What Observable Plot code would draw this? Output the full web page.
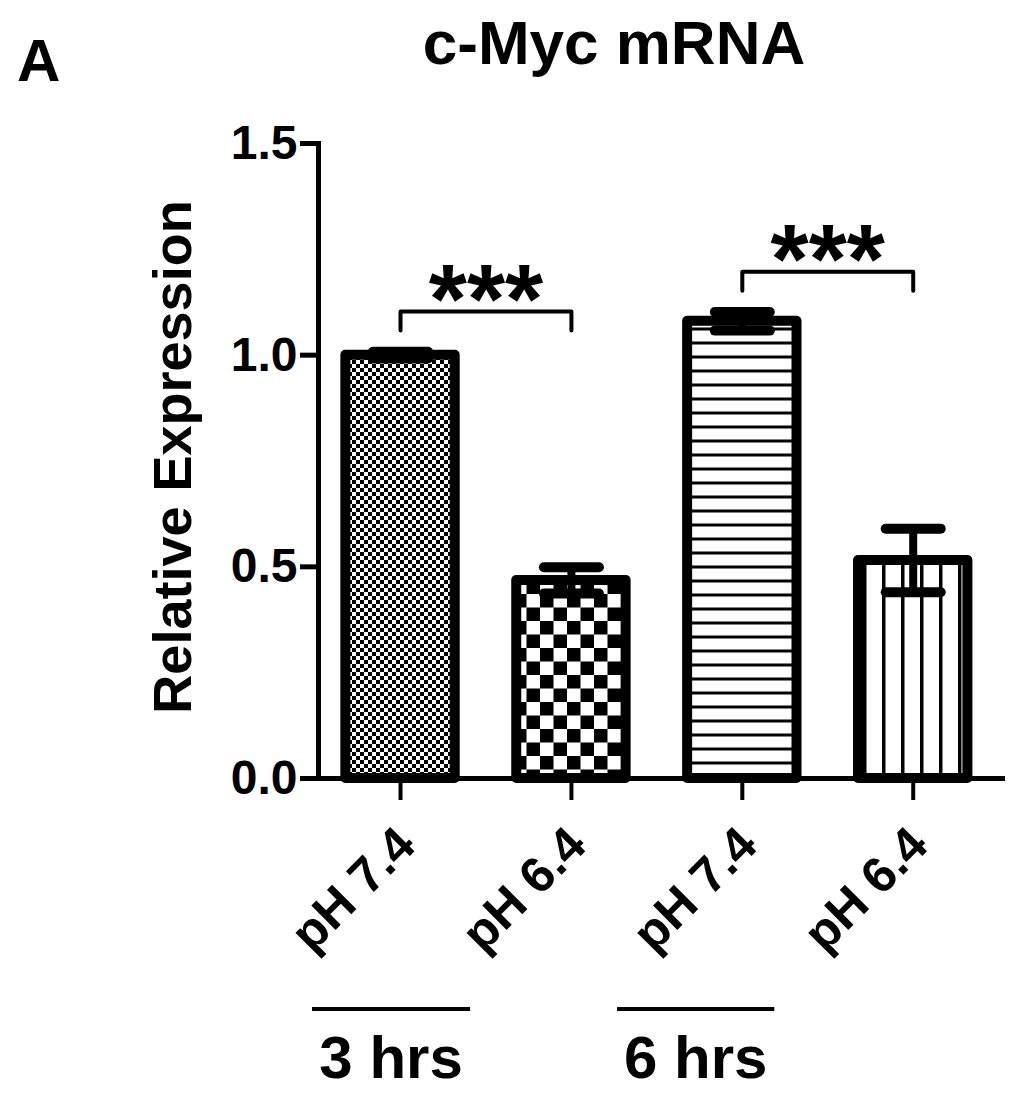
<!DOCTYPE html>
<html>
<head>
<meta charset="utf-8">
<script src="https://cdn.jsdelivr.net/npm/d3@7"></script>
<script src="https://cdn.jsdelivr.net/npm/@observablehq/plot@0.6"></script>
<style>
  body { margin: 0; background: #fff; }
  #wrap { position: relative; width: 1024px; height: 1100px; font-family: "Liberation Sans", Arial, sans-serif; color: #000; }
  #panel { position: absolute; left: 17px; top: 31px; font-size: 60px; font-weight: bold; line-height: 1; }
  #title { position: absolute; left: 364px; width: 500px; top: 12px; text-align: center; font-size: 62px; font-weight: bold; line-height: 1; }
  #chart { position: absolute; left: 0; top: 0; }
</style>
</head>
<body>
<svg width="0" height="0" style="position:absolute">
  <defs>
    <pattern id="checkFine" patternUnits="userSpaceOnUse" width="8" height="8">
      <rect width="8" height="8" fill="#fff"/>
      <rect x="0" y="0" width="4" height="4" fill="#000"/>
      <rect x="4" y="4" width="4" height="4" fill="#000"/>
    </pattern>
    <pattern id="checkCoarse" patternUnits="userSpaceOnUse" width="27" height="27">
      <rect width="27" height="27" fill="#fff"/>
      <rect x="0" y="0" width="13.5" height="13.5" fill="#000"/>
      <rect x="13.5" y="13.5" width="13.5" height="13.5" fill="#000"/>
    </pattern>
    <pattern id="hLines" patternUnits="userSpaceOnUse" width="14" height="14">
      <rect width="14" height="14" fill="#fff"/>
      <rect x="0" y="5.5" width="14" height="3" fill="#000"/>
    </pattern>
    <pattern id="vLines" patternUnits="userSpaceOnUse" width="19" height="19">
      <rect width="19" height="19" fill="#fff"/>
      <rect x="8" y="0" width="3.5" height="19" fill="#000"/>
    </pattern>
  </defs>
</svg>
<div id="wrap">
  <div id="chart"></div>
  <div id="panel">A</div>
  <div id="title">c-Myc mRNA</div>
</div>
<script>
// ---- data ----
const timeGroups = ["3 hrs", "3 hrs", "6 hrs", "6 hrs"];
const phLabels = ["pH 7.4", "pH 6.4", "pH 7.4", "pH 6.4"];
const means = [1.0, 0.468, 1.08, 0.515];
const sems = [0.008, 0.031, 0.022, 0.075];
const sigPairs = [[0, 1], [2, 3]];
const sigLabels = ["***", "***"];
const yTicks = [0, 0.5, 1.0, 1.5];
const groupNames = ["3 hrs", "6 hrs"];

// ---- styles (not data) ----
const patterns = ["url(#checkFine)", "url(#checkCoarse)", "url(#hLines)", "url(#vLines)"];
const font = "Liberation Sans, Arial, sans-serif";
const halfBar = 0.32, halfCap = 0.161, bracketGap = 0.095, bracketLeg = 0.045;

const idx = means.map((_, i) => i);
const bars = idx.map(i => ({i, group: timeGroups[i], label: phLabels[i], mean: means[i], sem: sems[i], fill: patterns[i]}));

const brackets = [];
sigPairs.forEach(([a, b], k) => {
  const top = Math.max(means[a] + sems[a], means[b] + sems[b]) + bracketGap;
  brackets.push({k, x: a, y: top - bracketLeg}, {k, x: a, y: top}, {k, x: b, y: top}, {k, x: b, y: top - bracketLeg});
});
const stars = sigPairs.map(([a, b], k) => ({
  x: (a + b) / 2,
  y: Math.max(means[a] + sems[a], means[b] + sems[b]) + bracketGap,
  text: sigLabels[k]
}));

const plot = Plot.plot({
  width: 1024,
  height: 1100,
  marginLeft: 318,
  marginRight: 19,
  marginTop: 143,
  marginBottom: 322,
  style: {fontFamily: font, background: "transparent", color: "#000", overflow: "visible"},
  x: {type: "linear", domain: [-0.48, 3.54]},
  y: {domain: [0, 1.5]},
  color: {type: "identity"},
  marks: [
    Plot.rectY(bars, {x1: d => d.i - halfBar, x2: d => d.i + halfBar, y1: 0, y2: "mean", fill: "fill", stroke: "#000", strokeWidth: 10, strokeLinejoin: "round"}),
    Plot.ruleX(bars, {x: "i", y1: d => d.mean - d.sem, y2: d => d.mean + d.sem, stroke: "#000", strokeWidth: 8}),
    Plot.link(bars, {x1: d => d.i - halfCap, x2: d => d.i + halfCap, y1: d => d.mean + d.sem, y2: d => d.mean + d.sem, stroke: "#000", strokeWidth: 10, strokeLinecap: "round"}),
    Plot.link(bars, {x1: d => d.i - halfCap, x2: d => d.i + halfCap, y1: d => d.mean - d.sem, y2: d => d.mean - d.sem, stroke: "#000", strokeWidth: 10, strokeLinecap: "round"}),
    Plot.line(brackets, {x: "x", y: "y", z: "k", stroke: "#000", strokeWidth: 4, strokeLinejoin: "round", curve: "linear"}),
    Plot.text(stars, {x: "x", y: "y", text: "text", fontSize: 98, fontWeight: "bold", lineAnchor: "bottom", dy: 21, fill: "#000"}),
    Plot.ruleY([0], {stroke: "#000", strokeWidth: 5}),
    Plot.frame({anchor: "left", stroke: "#000", strokeWidth: 5}),
    Plot.axisY({ticks: yTicks, tickFormat: d3.format(".1f"), tickSize: 18, tickPadding: 3, fontSize: 48, fontWeight: "bold", strokeWidth: 5, label: null}),
    Plot.axisX({ticks: idx, tickFormat: () => "", tickSize: 22, strokeWidth: 4, label: null}),
    Plot.text(bars, {x: "i", text: "label", frameAnchor: "bottom", rotate: -45, textAnchor: "end", lineAnchor: "middle", dx: 6, dy: 58, fontSize: 50, fontWeight: "bold", fill: "#000"}),
    Plot.text(["Relative Expression"], {frameAnchor: "left", rotate: -90, textAnchor: "middle", lineAnchor: "middle", dx: -145, dy: -4, fontSize: 54, fontWeight: "bold", fill: "#000"})
  ]
});
document.getElementById("chart").appendChild(plot);

// group annotations below the rotated labels (layout offsets in x-scale units)
const sx = plot.scale("x");
const groupSpan = {"3 hrs": [-0.515, 0.41], "6 hrs": [1.27, 2.19]};
const svg = d3.select(plot);
groupNames.forEach(g => {
  const [a, b] = groupSpan[g];
  const x1 = sx.apply(a), x2 = sx.apply(b);
  svg.append("line").attr("x1", x1).attr("x2", x2).attr("y1", 1009).attr("y2", 1009)
    .attr("stroke", "#000").attr("stroke-width", 4);
  svg.append("text").attr("x", (x1 + x2) / 2).attr("y", 1078).attr("text-anchor", "middle")
    .attr("font-size", 60).attr("font-weight", "bold").attr("font-family", font).attr("fill", "#000").text(g);
});
</script>
</body>
</html>
